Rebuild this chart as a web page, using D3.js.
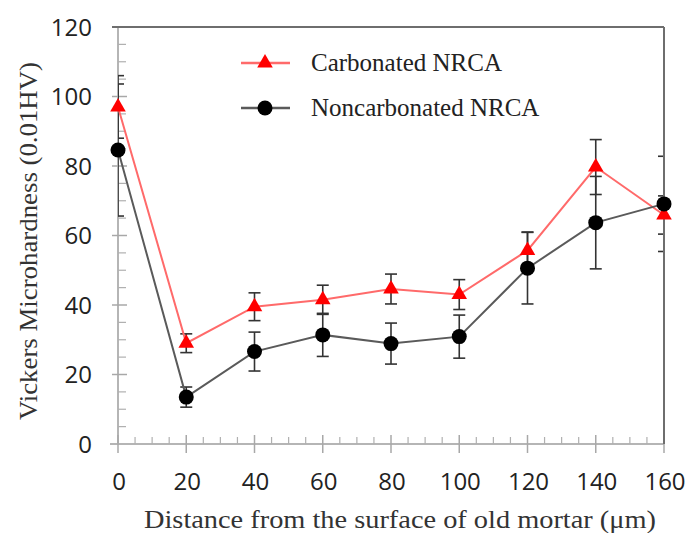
<!DOCTYPE html>
<html>
<head>
<meta charset="utf-8">
<script src="https://cdn.jsdelivr.net/npm/d3@7"></script>
<style>
  html, body { margin: 0; padding: 0; background: #fff; }
  svg { display: block; }
</style>
</head>
<body>
<svg id="chart" width="687" height="533"></svg>
<script>
// ---- data ----
const distances = [0, 20, 40, 60, 80, 100, 120, 140, 160];
const carbonated = [97, 29, 39.5, 41.5, 44.6, 43, 55.7, 79.7, 65.9];
const carbonatedErr = [9, 2.7, 4, 4.2, 4.3, 4.3, 5.3, 7.9, 5.5];
const noncarbonated = [84.6, 13.5, 26.6, 31.4, 28.9, 30.9, 50.6, 63.7, 69.1];
const noncarbonatedErr = [19, 2.9, 5.6, 6.2, 5.9, 6.2, 10.3, 13.3, 13.7];
const xTicks = [0, 20, 40, 60, 80, 100, 120, 140, 160];
const yTicks = [0, 20, 40, 60, 80, 100, 120];
const seriesNames = ["Carbonated NRCA", "Noncarbonated NRCA"];

const svg = d3.select("#chart");
const x = d3.scaleLinear().domain([0, 160]).range([118, 664]);
const y = d3.scaleLinear().domain([0, 120]).range([444, 27]);

svg.append("defs").append("clipPath").attr("id", "plotclip")
  .append("rect").attr("x", x(0)).attr("y", 0).attr("width", x(160) - x(0)).attr("height", 533);

// y axis
const yMinor = d3.range(0, 121, 5).filter(v => v % 20 !== 0);
const gy = svg.append("g");
gy.append("line").attr("x1", x(0)).attr("x2", x(0)).attr("y1", y(0)).attr("y2", y(120))
  .attr("stroke", "#b5b5b5").attr("stroke-width", 2);
gy.selectAll(".ymaj").data(yTicks).join("line")
  .attr("x1", x(0) - 6).attr("x2", x(0) + 9).attr("y1", d => y(d)).attr("y2", d => y(d))
  .attr("stroke", "#a8a8a8").attr("stroke-width", 1.5);
gy.selectAll(".ymin").data(yMinor).join("line")
  .attr("x1", x(0)).attr("x2", x(0) + 8).attr("y1", d => y(d)).attr("y2", d => y(d))
  .attr("stroke", "#b0b0b0").attr("stroke-width", 1.2);
gy.selectAll("text").data(yTicks).join("text")
  .attr("x", 92).attr("y", d => y(d)).attr("dy", "0.36em")
  .attr("text-anchor", "end")
  .attr("font-family", "'Open Sans', sans-serif").attr("font-size", 24).attr("fill", "#222")
  .text(d => d);

// x axis
const xMinor = d3.range(0, 161, 5).filter(v => v % 20 !== 0);
const gx = svg.append("g");
gx.append("line").attr("x1", x(0) - 8).attr("x2", x(160)).attr("y1", y(0)).attr("y2", y(0))
  .attr("stroke", "#b5b5b5").attr("stroke-width", 2);
gx.selectAll(".xmaj").data(xTicks).join("line")
  .attr("x1", d => x(d)).attr("x2", d => x(d)).attr("y1", y(0) - 9).attr("y2", y(0) + 9)
  .attr("stroke", "#a8a8a8").attr("stroke-width", 1.5);
gx.selectAll(".xmin").data(xMinor).join("line")
  .attr("x1", d => x(d)).attr("x2", d => x(d)).attr("y1", y(0) - 7).attr("y2", y(0))
  .attr("stroke", "#b0b0b0").attr("stroke-width", 1.2);
gx.selectAll("text").data(xTicks).join("text")
  .attr("x", d => x(d) + 1).attr("y", 490)
  .attr("text-anchor", "middle")
  .attr("font-family", "'Open Sans', sans-serif").attr("font-size", 24).attr("fill", "#222")
  .text(d => d);

// axis titles
svg.append("text").attr("x", 400).attr("y", 528).attr("text-anchor", "middle")
  .attr("font-family", "'Liberation Serif', 'Times New Roman', serif").attr("font-size", 26)
  .attr("fill", "#333").attr("textLength", 512).attr("lengthAdjust", "spacingAndGlyphs")
  .text("Distance from the surface of old mortar (\u03bcm)");
svg.append("text").attr("transform", "translate(37,241) rotate(-90)").attr("text-anchor", "middle")
  .attr("font-family", "'Liberation Serif', 'Times New Roman', serif").attr("font-size", 26)
  .attr("fill", "#333").attr("textLength", 358).attr("lengthAdjust", "spacingAndGlyphs")
  .text("Vickers Microhardness (0.01HV)");

// series
const series = [
  { name: seriesNames[0], vals: carbonated, err: carbonatedErr, line: "#ff6a6a", marker: "tri", fill: "#ff0000" },
  { name: seriesNames[1], vals: noncarbonated, err: noncarbonatedErr, line: "#5a5a5a", marker: "circ", fill: "#000" }
];
const tri = d3.symbol().type(d3.symbolTriangle).size(105);
const lineGen = d3.line().x(d => x(d.x)).y(d => y(d.y));

// error bars for both (clipped to plot area)
series.forEach(s => {
  const pts = distances.map((d, i) => ({ x: d, y: s.vals[i], e: s.err[i] }));
  const g = svg.append("g").attr("stroke", "#333").attr("stroke-width", 1.6)
    .attr("clip-path", "url(#plotclip)");
  g.selectAll(".v").data(pts).join("line")
    .attr("x1", d => x(d.x)).attr("x2", d => x(d.x))
    .attr("y1", d => y(d.y + d.e)).attr("y2", d => y(d.y - d.e));
  g.selectAll(".t").data(pts).join("line")
    .attr("x1", d => x(d.x) - 6).attr("x2", d => x(d.x) + 6)
    .attr("y1", d => y(d.y + d.e)).attr("y2", d => y(d.y + d.e));
  g.selectAll(".b").data(pts).join("line")
    .attr("x1", d => x(d.x) - 6).attr("x2", d => x(d.x) + 6)
    .attr("y1", d => y(d.y - d.e)).attr("y2", d => y(d.y - d.e));
});

// frame: top and right
svg.append("line").attr("x1", x(0) - 6).attr("x2", x(160)).attr("y1", y(120)).attr("y2", y(120))
  .attr("stroke", "#6e6e6e").attr("stroke-width", 2);
svg.append("line").attr("x1", x(160)).attr("x2", x(160)).attr("y1", y(120)).attr("y2", y(0))
  .attr("stroke", "#6e6e6e").attr("stroke-width", 2);

series.forEach(s => {
  const pts = distances.map((d, i) => ({ x: d, y: s.vals[i] }));
  svg.append("path").datum(pts).attr("d", lineGen)
    .attr("fill", "none").attr("stroke", s.line).attr("stroke-width", 2);
  if (s.marker === "tri") {
    svg.append("g").selectAll("path").data(pts).join("path")
      .attr("d", tri).attr("transform", d => `translate(${x(d.x)},${y(d.y)})`).attr("fill", s.fill);
  } else {
    svg.append("g").selectAll("circle").data(pts).join("circle")
      .attr("cx", d => x(d.x)).attr("cy", d => y(d.y)).attr("r", 7.5).attr("fill", s.fill);
  }
});

// legend
const legY = [63, 108];
series.forEach((s, i) => {
  const g = svg.append("g");
  g.append("line").attr("x1", 241).attr("x2", 290).attr("y1", legY[i]).attr("y2", legY[i])
    .attr("stroke", s.line).attr("stroke-width", 2.5);
  if (s.marker === "tri") {
    g.append("path").attr("d", tri).attr("transform", `translate(265,${legY[i]})`).attr("fill", s.fill);
  } else {
    g.append("circle").attr("cx", 265).attr("cy", legY[i]).attr("r", 7.5).attr("fill", s.fill);
  }
  g.append("text").attr("x", 311).attr("y", legY[i]).attr("dy", "0.33em")
    .attr("font-family", "'Liberation Serif', 'Times New Roman', serif").attr("font-size", 25)
    .attr("fill", "#222").text(s.name);
});
</script>
</body>
</html>
